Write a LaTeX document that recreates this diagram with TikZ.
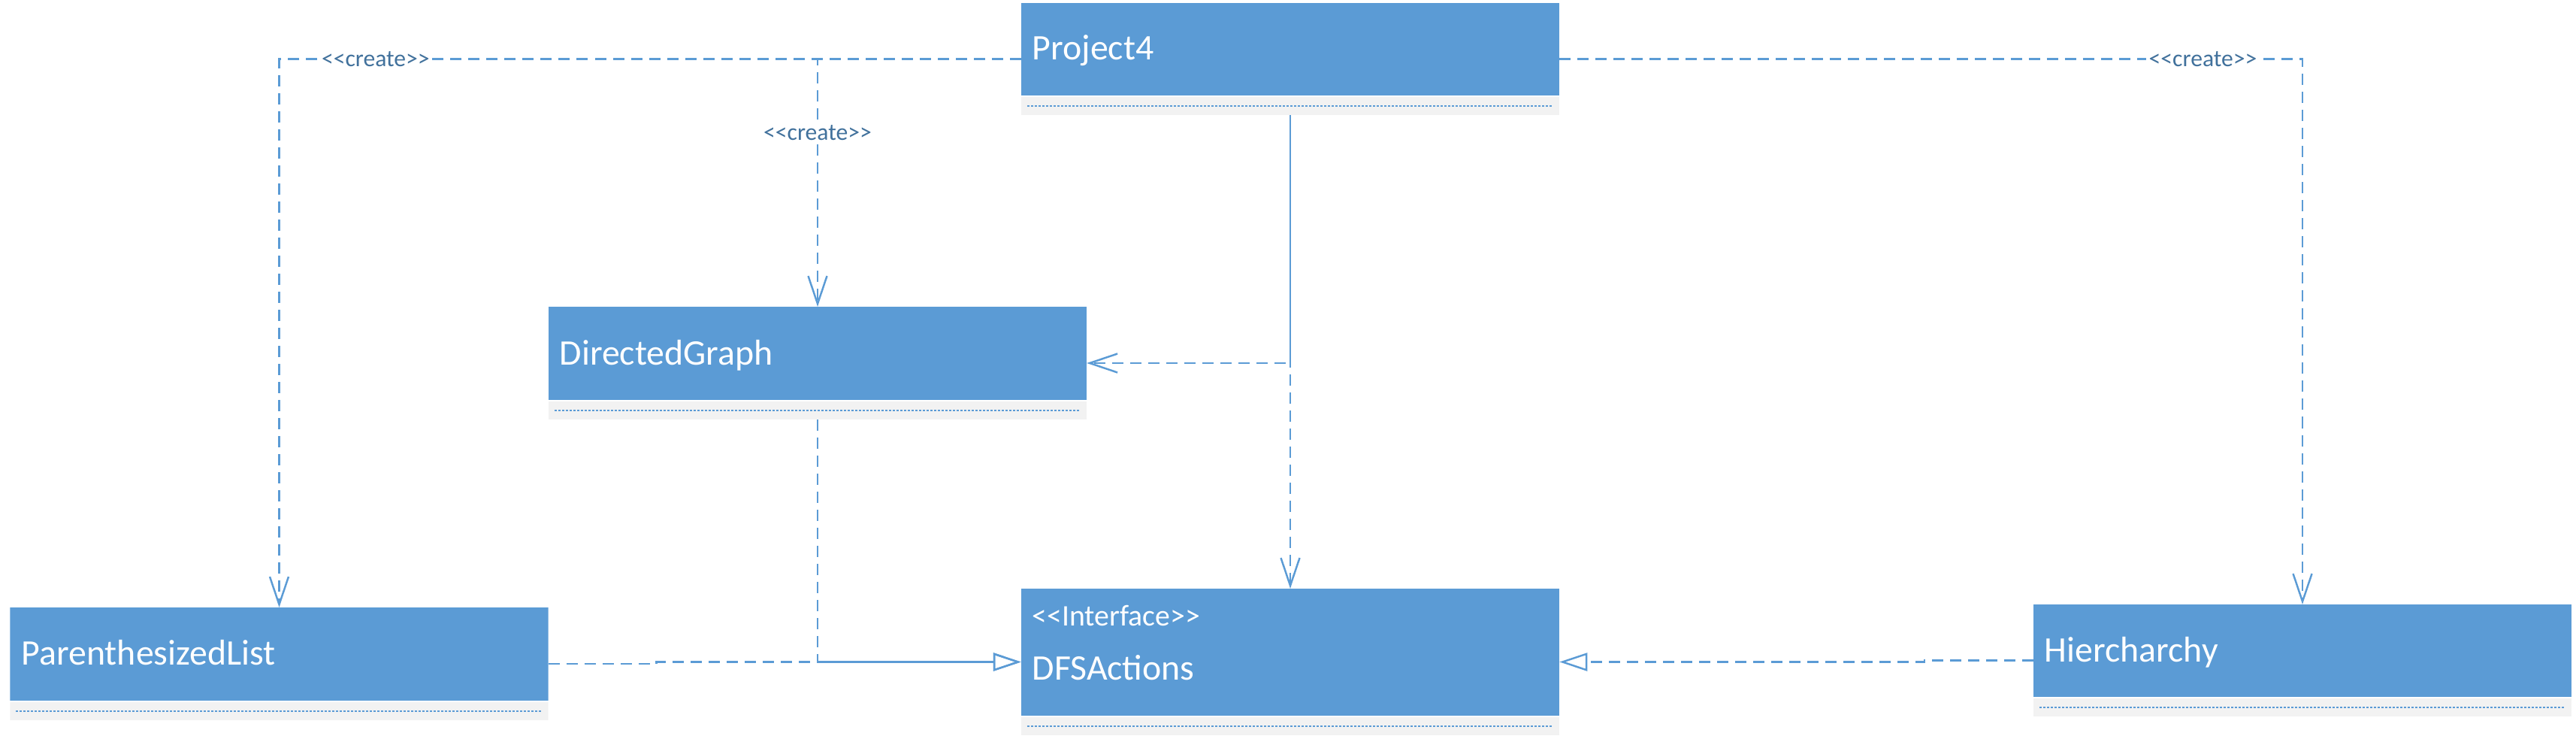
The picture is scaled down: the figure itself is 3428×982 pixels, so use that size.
\documentclass[tikz,border=0pt]{standalone}
\usepackage{fontspec}
\setmainfont{Carlito}[Ligatures=TeXOff]
\usetikzlibrary{arrows.meta}
\definecolor{umlblue}{HTML}{5B9BD5}
\definecolor{stripgray}{HTML}{F2F2F2}
\definecolor{labelblue}{HTML}{41719C}
\tikzset{
  cls/.style={rectangle, inner sep=0pt, outer sep=0pt, minimum width=7.16cm,
    path picture={
      \fill[umlblue] (path picture bounding box.north west) rectangle ([yshift=0.26cm]path picture bounding box.south east);
      \fill[stripgray] ([yshift=0.24cm]path picture bounding box.south west) rectangle (path picture bounding box.south east);
      \draw[umlblue, line width=0.55pt, dash pattern=on 0.03cm off 0.02cm]
        ([xshift=0.08cm,yshift=0.12cm]path picture bounding box.south west) --
        ([xshift=-0.08cm,yshift=0.12cm]path picture bounding box.south east);
    }},
  titletext/.style={anchor=base west, inner sep=0pt, text=white, font=\fontsize{13.6}{16}\selectfont},
  stereotext/.style={anchor=base west, inner sep=0pt, text=white, font=\fontsize{11.3}{13}\selectfont},
  dep/.style={draw=umlblue, line width=0.7pt, dash pattern=on 0.15cm off 0.09cm},
  createarrow/.style={dep, -{Straight Barb[length=0.37cm,width=0.25cm]}},
  realarrow/.style={dep, -{Triangle[open,length=0.37cm,width=0.24cm]}},
  lbl/.style={fill=white, inner sep=1pt, text=labelblue, font=\fontsize{9}{11}\selectfont}
}
\begin{document}
\begin{tikzpicture}[x=0.01cm, y=-0.01cm]
\useasboundingbox (0,0) rectangle (3428,982);

% classes
\node[cls, minimum height=1.49cm] (p4)  at (1717,78.5) {};
\node[cls, minimum height=1.50cm] (dg)  at (1088,483) {};
\node[cls, minimum height=1.50cm] (pl)  at (371.5,883) {};
\node[cls, minimum height=1.49cm] (hi)  at (3064,878.5) {};
\node[cls, minimum height=1.95cm] (dfs) at (1717,880.5) {};

\node[titletext] (p4t) at (1373,80) {Project4};
\node[titletext] (dgt) at (744,485) {DirectedGraph};
\node[titletext] (plt) at (28,884) {ParenthesizedList};
\node[titletext] (hit) at (2720,880) {Hiercharchy};
\node[stereotext] (dfss) at (1373,832) {<<Interface>>};
\node[titletext] (dfst) at (1373,904) {DFSActions};

% create dependencies
\draw[createarrow] (p4.west) -| (pl.north) node[lbl, pos=0.435] {<<create>>};
\draw[createarrow] (p4.west) -| (dg.north) node[lbl, pos=0.649] {<<create>>};
\draw[createarrow] (p4.east) -| (hi.north) node[lbl, pos=0.433] {<<create>>};

% uses
\draw[createarrow] (p4.south) |- (dg.east);
\draw[createarrow, dash phase=0.15cm] (p4.south) -- (dfs.north);

% realizations
\draw[realarrow] (dg.south) |- (dfs.west);
\draw[realarrow] (pl.east) -- ++(144,0) |- (dfs.west);
\draw[realarrow] (hi.west) -- ++(-145,0) |- (dfs.east);
\end{tikzpicture}
\end{document}
